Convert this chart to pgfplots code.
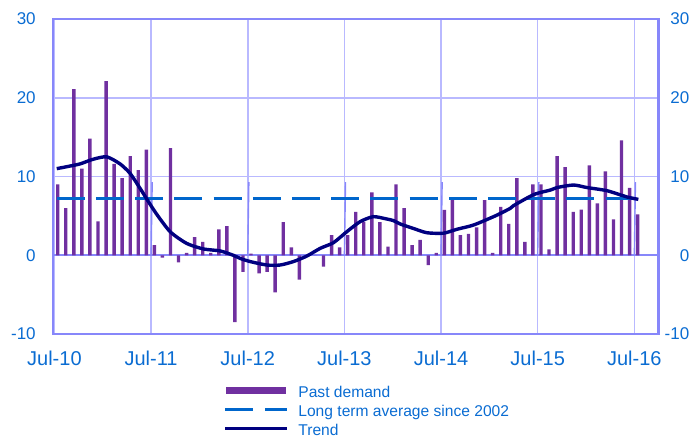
\documentclass[border=0pt]{standalone}
\usepackage{pgfplots}
\pgfplotsset{compat=1.18}
\usepackage{pgfplotstable}
\usepackage{fontspec}
\setmainfont{Liberation Sans}
\definecolor{barc}{RGB}{112,48,160}
\definecolor{trendc}{RGB}{0,0,128}
\definecolor{dashc}{RGB}{0,102,204}
\definecolor{gridc}{RGB}{185,185,255}
\definecolor{borderc}{RGB}{135,135,250}
\definecolor{textc}{RGB}{10,108,210}

\pgfplotstableread{
x y
0.41 9.0
1.41 6.0
2.41 21.1
3.41 11.0
4.41 14.8
5.41 4.3
6.41 22.1
7.41 11.6
8.41 9.8
9.41 12.6
10.41 10.8
11.41 13.4
12.41 1.3
13.41 -0.3
14.41 13.6
15.41 -0.9
16.41 0.3
17.41 2.3
18.41 1.7
19.41 0.3
20.41 3.3
21.41 3.7
22.41 -8.5
23.41 -2.1
24.41 0.2
25.41 -2.3
26.41 -2.1
27.41 -4.7
28.41 4.2
29.41 1.0
30.41 -3.1
31.41 0.0
32.41 0.0
33.41 -1.45
34.41 2.55
35.41 1.0
36.41 2.55
37.41 5.5
38.41 4.25
39.41 8.0
40.41 4.2
41.41 1.1
42.41 9.0
43.41 6.0
44.41 1.3
45.41 1.95
46.41 -1.25
47.41 0.3
48.41 5.75
49.41 7.0
50.41 2.55
51.41 2.7
52.41 3.55
53.41 7.0
54.41 0.3
55.41 6.15
56.41 4.0
57.41 9.8
58.41 1.7
59.41 9.0
60.41 9.0
61.41 0.75
62.41 12.6
63.41 11.2
64.41 5.5
65.41 5.8
66.41 11.4
67.41 6.6
68.41 10.65
69.41 4.55
70.41 14.6
71.41 8.55
72.41 5.2
}\bars

\pgfplotstableread{
x y
0.29 11.0
1.8 11.3
3.18 11.6
4.83 12.2
6.5 12.5
8.15 11.6
9.39 10.4
10.63 8.5
12.5 5.5
14.36 3.0
16.43 1.5
18.5 0.8
20.57 0.55
22.2 0.0
23.06 -0.4
24.3 -0.8
26.37 -1.24
28.02 -1.24
29.68 -0.8
31.34 -0.1
33.0 0.88
34.65 1.6
36.31 3.0
37.96 4.27
39.6 4.9
41.28 4.6
42.1 4.4
42.93 3.97
44.58 3.4
46.25 2.86
48.3 2.8
49.98 3.3
52.04 3.84
54.52 4.9
55.35 5.3
56.6 5.96
57.0 6.3
59.5 7.7
61.6 8.29
62.4 8.6
64.46 8.92
66.1 8.6
68.6 8.2
71.1 7.4
72.5 7.1
}\trend

\begin{document}
\begin{tikzpicture}
\begin{axis}[
  name=ax, at={(0,0)}, anchor=south west,
  scale only axis, width=302.6pt, height=157.5pt,
  xmin=-0.14, xmax=75, ymin=-10, ymax=30,
  xtick={0,12,24,36,48,60,72},
  xticklabels={Jul-10,Jul-11,Jul-12,Jul-13,Jul-14,Jul-15,Jul-16},
  ytick={-10,0,10,20,30},
  yticklabels={-10,0,10,20,30},
  grid=major,
  major grid style={color=gridc, line width=0.8pt},
  axis line style={color=borderc, line width=1pt},
  tick style={draw=none},
  xticklabel style={font=\fontsize{10}{12}\selectfont, text=textc, anchor=north, inner sep=0pt, yshift=-8.3pt},
  yticklabel style={font=\fontsize{8.5}{10}\selectfont, text=textc, anchor=east, inner sep=0pt, xshift=-8.6pt},
  ytick pos=left,
]
\draw[color=borderc, line width=0.8pt] (axis cs:-0.14,0) -- (axis cs:75,0);
\pgfplotsinvokeforeach{12,24,36,48,60,72}{
  \draw[color=borderc, line width=0.7pt] (axis cs:#1,0) -- ++(0,-2.8pt);
}
\addplot[ybar, bar width=1.7pt, bar shift=0pt, fill=barc, draw=none] table[x=x,y=y] {\bars};
\addplot[color=dashc, line width=1.5pt, dash pattern=on 14pt off 5.6pt] coordinates {(0.29,7.2) (72.6,7.2)};
\addplot[color=trendc, line width=1.7pt, smooth, tension=0.4] table[x=x,y=y] {\trend};
\end{axis}
\begin{axis}[
  at={(0,0)}, anchor=south west,
  scale only axis, width=302.6pt, height=157.5pt,
  xmin=-0.14, xmax=75, ymin=-10, ymax=30,
  hide x axis,
  axis y line*=right,
  y axis line style={draw=none},
  ytick={-10,0,10,20,30},
  yticklabels={-10,0,10,20,30},
  ytick style={draw=none},
  yticklabel style={font=\fontsize{8.5}{10}\selectfont, text=textc, anchor=west, inner sep=0pt, text width=13pt, align=right, xshift=2.2pt},
]
\end{axis}
\draw[borderc, line width=1pt] (0,0) rectangle (302.6pt,157.5pt);
% legend
\draw[barc, line width=3.3pt] (86.35pt,-28.35pt) -- (116.35pt,-28.35pt);
\draw[dashc, line width=1.5pt] (85.85pt,-37.65pt) -- (99.7pt,-37.65pt);
\draw[dashc, line width=1.5pt] (105.85pt,-37.65pt) -- (117pt,-37.65pt);
\draw[trendc, line width=1.4pt] (85.85pt,-47.35pt) -- (117pt,-47.35pt);
\node[anchor=base west, inner sep=0pt, text=textc, font=\fontsize{7.8}{9}\selectfont] at (122.35pt,-31.65pt) {Past demand};
\node[anchor=base west, inner sep=0pt, text=textc, font=\fontsize{7.8}{9}\selectfont] at (122.35pt,-41.35pt) {Long term average since 2002};
\node[anchor=base west, inner sep=0pt, text=textc, font=\fontsize{7.8}{9}\selectfont] at (122.35pt,-50.5pt) {Trend};
\pgfresetboundingbox
\path[use as bounding box] (-26.65pt,-51pt) rectangle (318.85pt,167pt);
\end{tikzpicture}
\end{document}
